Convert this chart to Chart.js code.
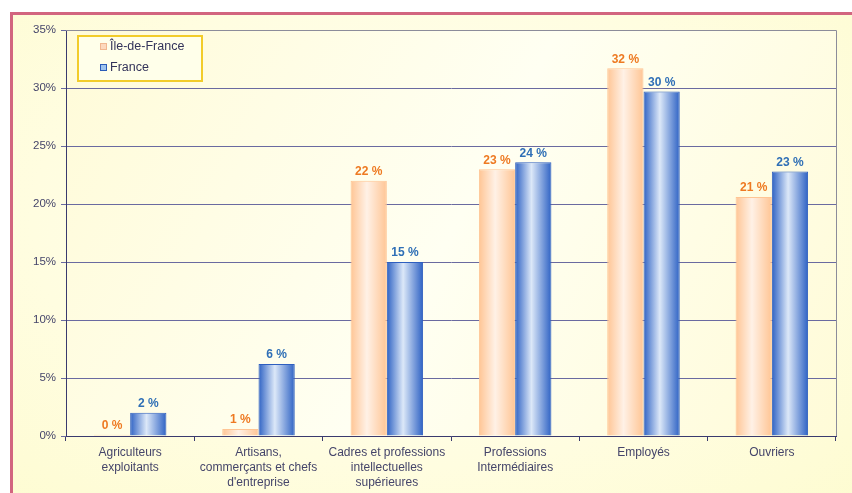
<!DOCTYPE html>
<html><head><meta charset="utf-8">
<script src="https://cdn.jsdelivr.net/npm/chart.js@4"></script>
<style>
html,body{margin:0;padding:0;background:#fff;}
#wrap{position:absolute;left:0;top:0;width:852px;height:493px;overflow:hidden;}
#frame{position:absolute;left:10px;top:12px;width:900px;height:520px;border:3px solid #d2657f;
 background:radial-gradient(ellipse at 45% 40%, #fffff4 0%, #fffde0 55%, #fdfbcc 100%);}
canvas{position:absolute;left:0;top:0;}
</style></head>
<body><div id="wrap"><div id="frame"></div><canvas id="c" width="852" height="493"></canvas></div>
<script>
const categories = [
  ["Agriculteurs","exploitants"],
  ["Artisans,","commerçants et chefs","d'entreprise"],
  ["Cadres et professions","intellectuelles","supérieures"],
  ["Professions","Intermédiaires"],
  ["Employés"],
  ["Ouvriers"]
];
const seriesNames = ["Île-de-France","France"];
const ileDeFrance = [0.1, 0.6, 22.0, 23.0, 31.7, 20.6];
const france = [2.0, 6.2, 15.0, 23.6, 29.7, 22.8];
const yTicks = [0,5,10,15,20,25,30,35];

const FONT = "'Liberation Sans', Arial, sans-serif";
const styles = [
  {edge:'#ffc594', mid:'#fff1e6', border:'#ffc594', label:'#ee7a22', boxFill:'#fdd9bd', boxBorder:'#f1b890'},
  {edge:'#2e62c4', mid:'#dce8f8', border:'#2f5fbf', label:'#2f6fb6', boxFill:'#9ec4ee', boxBorder:'#2a5cb8'}
];

const gradPlugin = {
  id:'grad',
  beforeDatasetsDraw(chart){
    const ctx = chart.ctx;
    chart.data.datasets.forEach((ds,di)=>{
      const st = styles[di];
      chart.getDatasetMeta(di).data.forEach(el=>{
        const l = el.x - el.width/2, r = el.x + el.width/2;
        const g = ctx.createLinearGradient(l,0,r,0);
        g.addColorStop(0, st.edge);
        g.addColorStop(0.45, st.mid);
        g.addColorStop(1, st.edge);
        el.options = Object.assign({}, el.options, {backgroundColor:g});
      });
    });
  },
  afterDatasetsDraw(chart){
    const ctx = chart.ctx;
    ctx.save();
    ctx.font = "bold 12px " + FONT;
    ctx.textAlign = 'center';
    ctx.textBaseline = 'bottom';
    chart.data.datasets.forEach((ds,di)=>{
      ctx.fillStyle = styles[di].label;
      chart.getDatasetMeta(di).data.forEach((el,i)=>{
        ctx.fillText(Math.round(ds.data[i]) + ' %', el.x, el.y - 3);
      });
    });
    ctx.restore();
  }
};

const framePlugin = {
  id:'frame',
  beforeDraw(chart){
    const {ctx, chartArea:a} = chart;
    ctx.save();
    const g = ctx.createLinearGradient(a.left, a.top, a.right, a.bottom);
    g.addColorStop(0, '#fffbd8');
    g.addColorStop(0.5, '#fffff2');
    g.addColorStop(1, '#fffbd8');
    ctx.fillStyle = g;
    ctx.fillRect(a.left, a.top, a.right - a.left, a.bottom - a.top);
    ctx.restore();
  },
  afterDraw(chart){
    const {ctx, chartArea:a} = chart;
    ctx.save();
    ctx.strokeStyle = '#8c8c9a';
    ctx.lineWidth = 1;
    ctx.beginPath();
    ctx.moveTo(a.left, a.top + 0.5);
    ctx.lineTo(a.right + 0.5, a.top + 0.5);
    ctx.lineTo(a.right + 0.5, a.bottom);
    ctx.stroke();
    // legend
    const lx = 78, ly = 36, lw = 124, lh = 45;
    ctx.fillStyle = 'rgba(255,255,235,0.9)';
    ctx.fillRect(lx, ly, lw, lh);
    ctx.strokeStyle = '#f2cc2a';
    ctx.lineWidth = 2;
    ctx.strokeRect(lx, ly, lw, lh);
    ctx.font = "12.5px " + FONT;
    ctx.textBaseline = 'middle';
    ctx.textAlign = 'left';
    const rows = [47, 68];
    chart.data.datasets.forEach((ds,di)=>{
      const st = styles[di], y = rows[di];
      ctx.fillStyle = st.boxFill;
      ctx.fillRect(100, y-4, 7, 7);
      ctx.strokeStyle = st.boxBorder;
      ctx.lineWidth = 1;
      ctx.strokeRect(100.5, y-3.5, 6, 6);
      ctx.fillStyle = '#33335a';
      ctx.fillText(ds.label, 110, y);
    });
    ctx.restore();
  }
};

new Chart(document.getElementById('c'), {
  type:'bar',
  data:{
    labels: categories,
    datasets:[
      {label:seriesNames[0], data:ileDeFrance, borderColor:styles[0].border, borderWidth:1, backgroundColor:styles[0].edge},
      {label:seriesNames[1], data:france, borderColor:styles[1].border, borderWidth:1, backgroundColor:styles[1].edge}
    ]
  },
  options:{
    responsive:false,
    animation:false,
    events:[],
    layout:{padding:{left:0, top:30, right:16, bottom:0}},
    categoryPercentage:0.565,
    barPercentage:1,
    plugins:{legend:{display:false}, tooltip:{enabled:false}},
    scales:{
      x:{
        grid:{offset:true, drawOnChartArea:false, tickLength:5, color:'#3a3a6e'},
        border:{color:'#3a3a6e', width:1},
        ticks:{color:'#45456a', font:{family:FONT, size:12, lineHeight:1.25}, padding:4, maxRotation:0, autoSkip:false},
        afterFit(s){ s.height = 57; }
      },
      y:{
        min:0, max:35,
        afterBuildTicks(s){ s.ticks = yTicks.map(v=>({value:v})); },
        grid:{color:'#6a6aa0', tickLength:5},
        border:{color:'#3a3a6e', width:1},
        ticks:{color:'#45456a', font:{family:FONT, size:11.5}, padding:5, callback:v=>v+'%'},
        afterFit(s){ s.width = 66; }
      }
    }
  },
  plugins:[framePlugin, gradPlugin]
});
</script></body></html>
